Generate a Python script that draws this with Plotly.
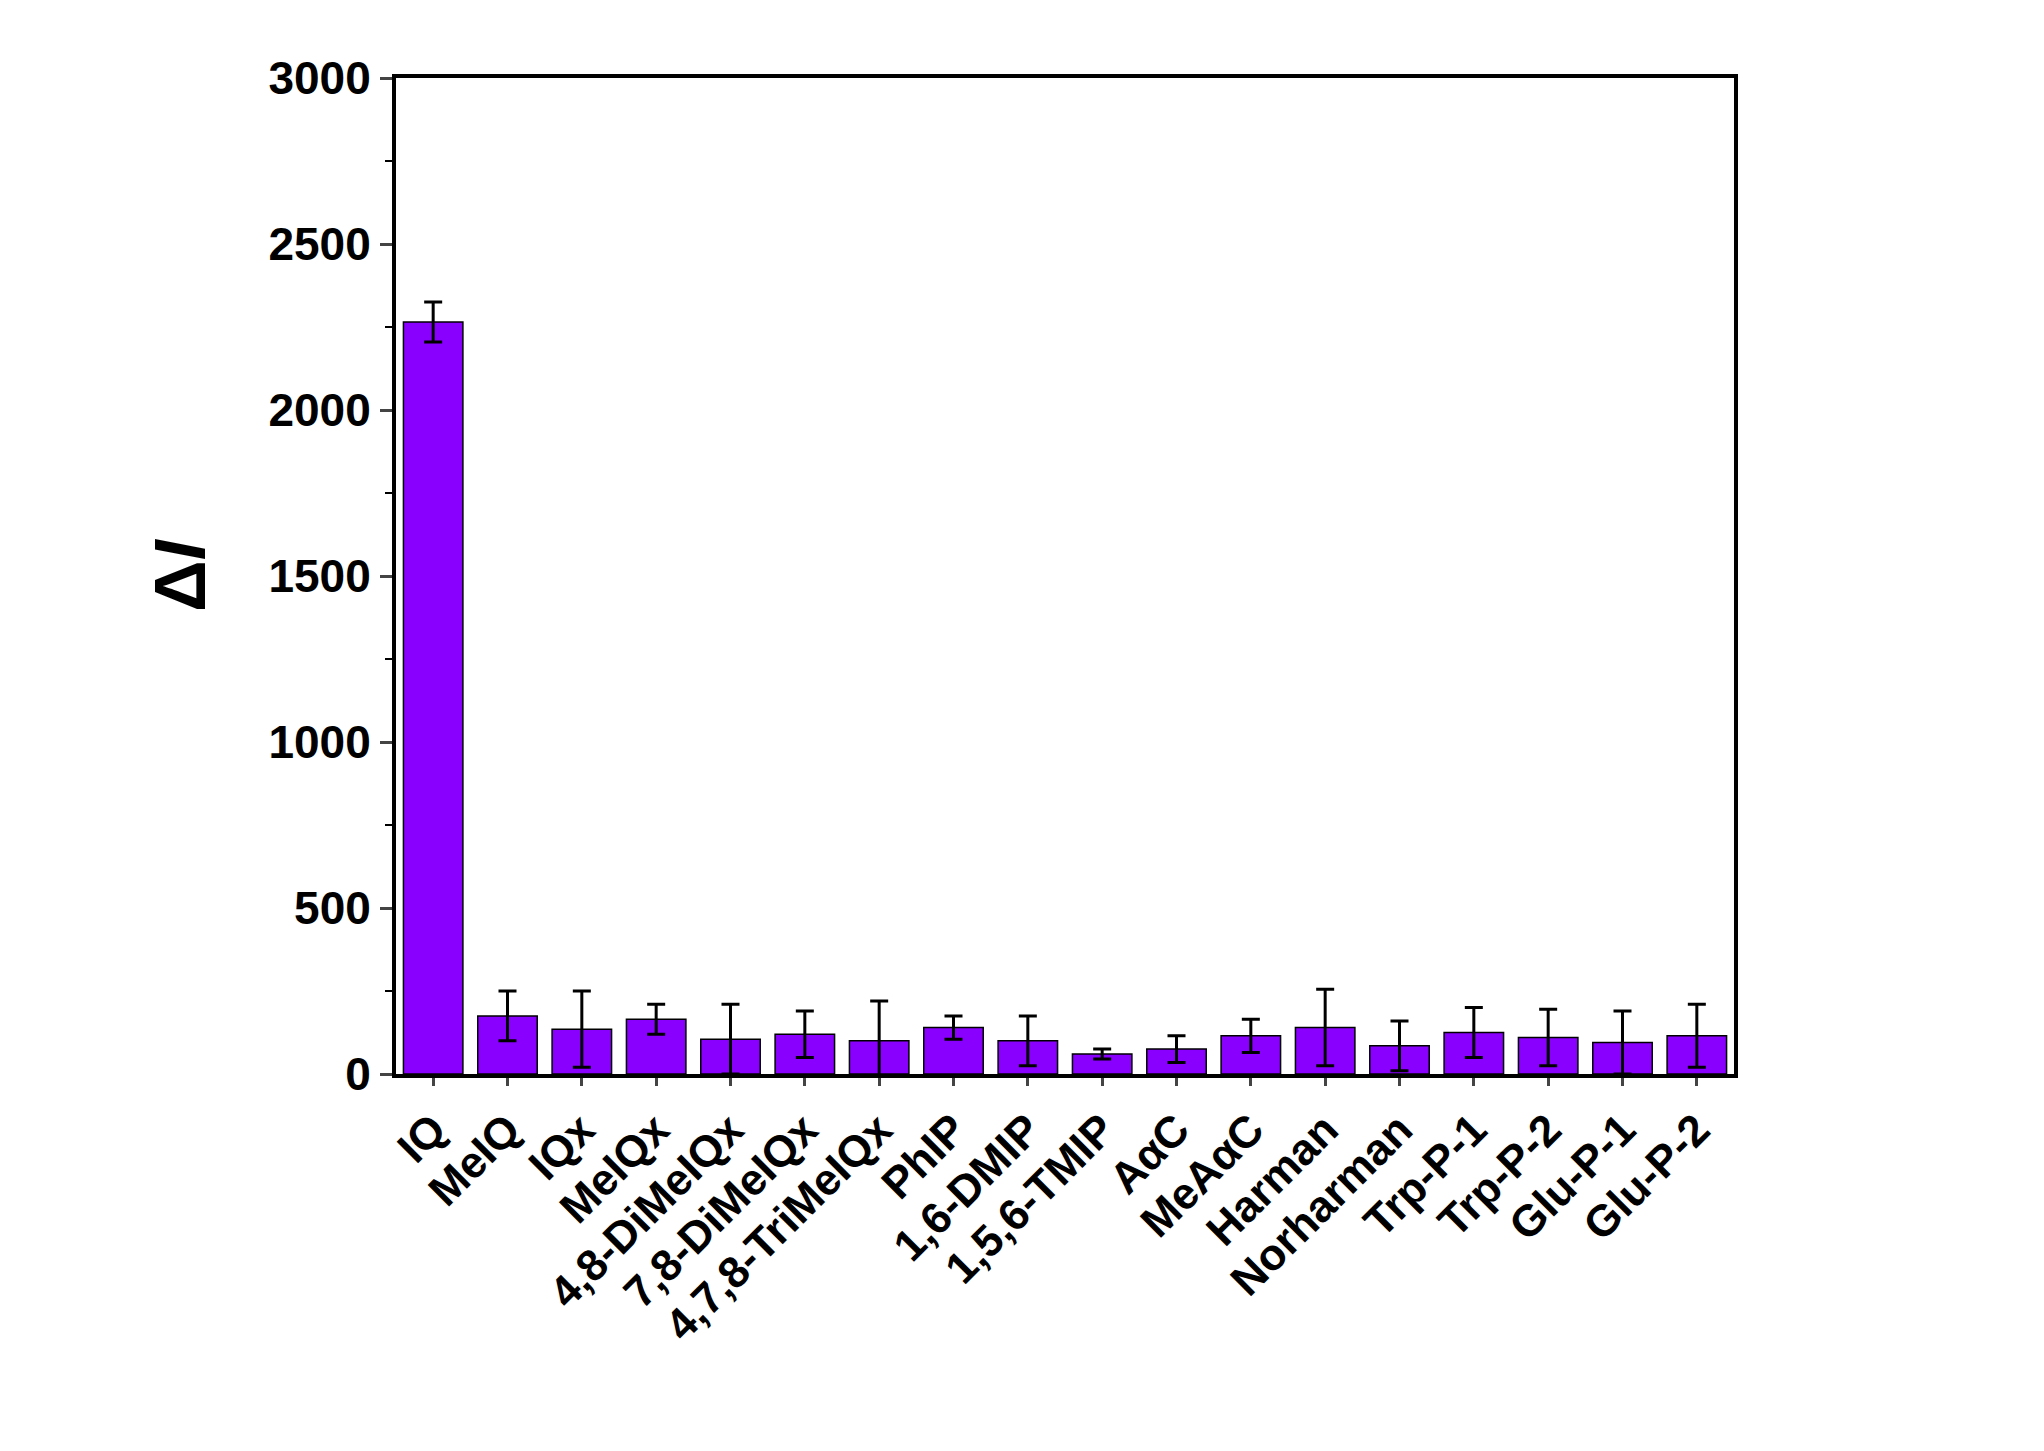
import plotly.graph_objects as go

categories = ["IQ","MeIQ","IQx","MeIQx","4,8-DiMeIQx","7,8-DiMeIQx","4,7,8-TriMeIQx","PhIP",
              "1,6-DMIP","1,5,6-TMIP","AαC","MeAαC","Harman","Norharman","Trp-P-1","Trp-P-2","Glu-P-1","Glu-P-2"]
values = [2265,175,135,165,105,120,100,140,100,60,75,115,140,85,125,110,95,115]
errors = [60,75,115,45,105,70,120,35,75,15,40,50,115,75,75,85,95,95]
yticks = [0,500,1000,1500,2000,2500,3000]

fig = go.Figure(go.Bar(
    x=categories, y=values,
    marker=dict(color="#8A00FF", line=dict(color="black", width=1.5)),
    error_y=dict(type="data", array=errors, color="black", thickness=3, width=9),
    width=0.8,
))
font = "Liberation Sans, Arial, sans-serif"
fig.update_layout(
    width=2044, height=1451, plot_bgcolor="white", paper_bgcolor="white",
    margin=dict(l=388, r=318, t=70, b=385),
    showlegend=False, bargap=0.2,
    font=dict(family=font, color="black"),
)
fig.update_xaxes(
    tickangle=-45, tickfont=dict(size=44, family=font, weight="bold"),
    showline=True, linecolor="black", linewidth=4, mirror=True,
    ticks="outside", ticklen=8, tickwidth=3,
)
fig.update_yaxes(
    range=[0,3000], tickvals=yticks, ticktext=[str(v) for v in yticks],
    tickfont=dict(size=46, family=font, weight="bold"),
    showline=True, linecolor="black", linewidth=4, mirror=True,
    ticks="outside", ticklen=12, tickwidth=3, showgrid=False, zeroline=False,
    minor=dict(dtick=250, ticks="outside", ticklen=7, tickwidth=2, tickcolor="black"),
    title=dict(text="<b>Δ<i>I</i></b>", font=dict(size=72, family=font), standoff=40),
)
fig.write_html("out.html")
